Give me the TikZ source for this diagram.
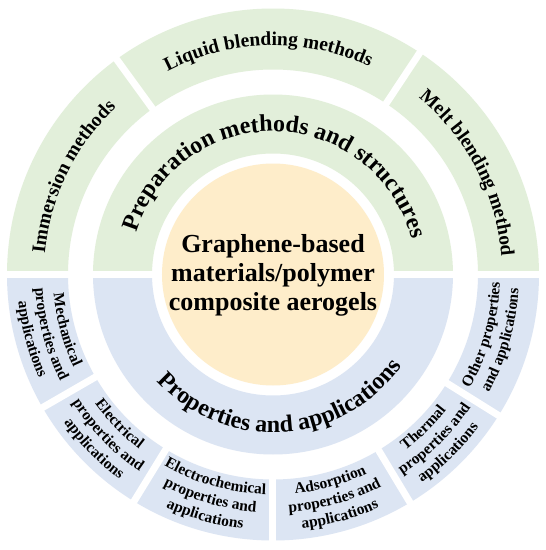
\documentclass[tikz,border=0pt]{standalone}
\usepackage{fontspec}
\setmainfont{Liberation Serif}
\usetikzlibrary{decorations.text}
\definecolor{grn}{RGB}{226,239,218}
\definecolor{blu}{RGB}{220,229,243}
\definecolor{ylw}{RGB}{254,237,202}
\newcommand\fBig{\bfseries\fontsize{24pt}{28pt}\selectfont}
\newcommand\fTop{\bfseries\fontsize{19.5pt}{23pt}\selectfont}
\newcommand\fBot{\bfseries\fontsize{15.5pt}{18pt}\selectfont}
% annular sector: inner r, outer r, start angle, end angle, colour
\newcommand\annsector[5]{\fill[#5] (#3:#2) arc[start angle=#3,end angle=#4,radius=#2] -- (#4:#1) arc[start angle=#4,end angle=#3,radius=#1] -- cycle;}
% text along clockwise arc (tops outward): centre angle, radius, font, text
\newcommand\cwtext[4]{\path[decorate,decoration={text along path,text align=center,text={|#3|#4}}] ({#1+80}:#2) arc[start angle={#1+80},end angle={#1-80},radius=#2];}
% text along counter-clockwise arc (tops inward)
\newcommand\ccwtext[4]{\path[decorate,decoration={text along path,text align=center,text={|#3|#4}}] ({#1-80}:#2) arc[start angle={#1-80},end angle={#1+80},radius=#2];}
\tikzset{gap/.style={draw=white,line width=7pt}}
\begin{document}
\begin{tikzpicture}
\useasboundingbox[fill=white] (-273pt,-275.5pt) rectangle (273pt,274.5pt);
% rings
\annsector{205pt}{266pt}{0}{180}{grn}
\annsector{205pt}{266pt}{180}{360}{blu}
\annsector{121pt}{180pt}{0}{180}{grn}
\annsector{121pt}{180pt}{180}{360}{blu}
% gaps
\draw[gap] (-280pt,0) -- (280pt,0);
\foreach \a in {126,56.5,210,238.5,270,301,328}{
  \draw[gap] (\a:195pt) -- (\a:275pt);
}
% core
\fill[ylw] (0,0) circle[radius=111pt];
\node[align=center,font=\bfseries\fontsize{26pt}{29pt}\selectfont] (core) at (0,-1pt) {Graphene-based\\materials/polymer\\composite aerogels};
% middle ring labels
\cwtext{88.6}{143pt}{\fBig}{Preparation methods and structures}
\ccwtext{273.6}{158pt}{\fBig}{Properties and applications}
% outer top labels
\cwtext{154}{229pt}{\fTop}{Immersion methods}
\cwtext{91.2}{229pt}{\fTop}{Liquid blending methods}
\cwtext{27.5}{229pt}{\fTop}{Melt blending method}
% outer bottom labels
\ccwtext{195}{220pt}{\fBot}{Mechanical}
\ccwtext{195}{238pt}{\fBot}{properties and}
\ccwtext{195}{256pt}{\fBot}{applications}
\ccwtext{224.25}{220pt}{\fBot}{Electrical}
\ccwtext{224.25}{238pt}{\fBot}{properties and}
\ccwtext{224.25}{256pt}{\fBot}{applications}
\ccwtext{254.25}{220pt}{\fBot}{Electrochemical}
\ccwtext{254.25}{238pt}{\fBot}{properties and}
\ccwtext{254.25}{256pt}{\fBot}{applications}
\ccwtext{285.5}{220pt}{\fBot}{Adsorption}
\ccwtext{285.5}{238pt}{\fBot}{properties and}
\ccwtext{285.5}{256pt}{\fBot}{applications}
\ccwtext{314.5}{220pt}{\fBot}{Thermal}
\ccwtext{314.5}{238pt}{\fBot}{properties and}
\ccwtext{314.5}{256pt}{\fBot}{applications}
\ccwtext{344}{227pt}{\fBot}{Other properties}
\ccwtext{344}{246pt}{\fBot}{and applications}
\end{tikzpicture}
\end{document}
